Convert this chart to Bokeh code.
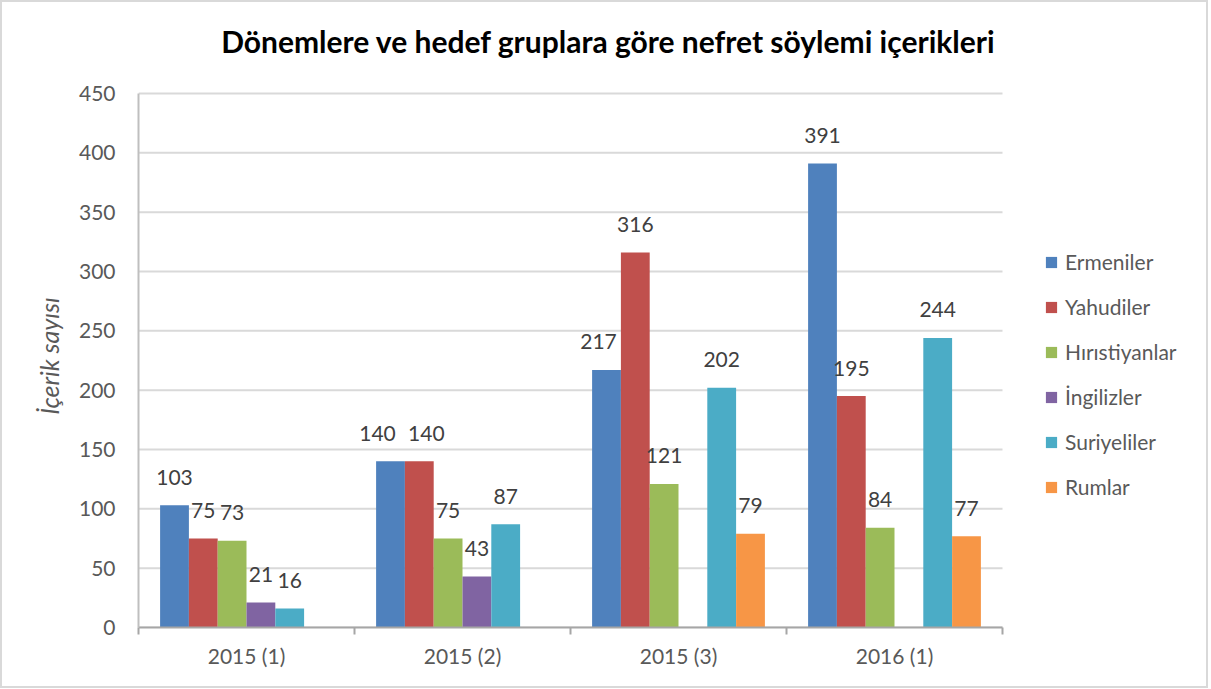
from bokeh.plotting import figure
from bokeh.models import ColumnDataSource, FixedTicker, Legend, LegendItem, Label
from bokeh.core.properties import value
from bokeh.embed import file_html
from bokeh.resources import INLINE

categories = ["2015 (1)", "2015 (2)", "2015 (3)", "2016 (1)"]
series_names = ["Ermeniler", "Yahudiler", "Hırıstiyanlar", "İngilizler", "Suriyeliler", "Rumlar"]
ermeniler = [103, 140, 217, 391]
yahudiler = [75, 140, 316, 195]
hiristiyanlar = [73, 75, 121, 84]
ingilizler = [21, 43, None, None]
suriyeliler = [16, 87, 202, 244]
rumlar = [None, None, 79, 77]
series_values = [ermeniler, yahudiler, hiristiyanlar, ingilizler, suriyeliler, rumlar]
colors = ["#4F81BD", "#C0504D", "#9BBB59", "#8064A2", "#4BACC6", "#F79646"]
y_ticks = [0, 50, 100, 150, 200, 250, 300, 350, 400, 450]
y_max = 450

# small horizontal nudges (px) of a few data labels, as in the reference
label_nudge = {(0, 1): -13, (1, 1): 7, (0, 2): -8}

FONT = "Lato"
W, H = 1208, 688
BORDER = 2
LEFT, BOTTOM_Y, RIGHT_B = 138, 627, 5   # page positions of the frame
FRAME_TOP = 8
PLOT_W, PLOT_TOP = 864, 93               # bar area (4 categories, 0..450)
ncat = len(categories)
frame_w = W - LEFT - RIGHT_B
x_end = ncat * frame_w / PLOT_W          # frame extends right to hold the legend
y_end = y_max * (BOTTOM_Y - FRAME_TOP) / (BOTTOM_Y - PLOT_TOP)  # and up to hold the title

p = figure(width=W, height=H, x_range=(0, x_end), y_range=(0, y_end),
           output_backend="svg", toolbar_location=None,
           min_border_left=LEFT - BORDER, min_border_right=RIGHT_B + BORDER,
           min_border_top=FRAME_TOP - BORDER, min_border_bottom=H - BOTTOM_Y + BORDER)
p.outline_line_color = None
p.background_fill_color = "white"
p.border_fill_color = "white"
p.styles = {"border": "2px solid #d9d9d9", "box-sizing": "border-box"}

# horizontal grid lines limited to the bar area
p.xgrid.grid_line_color = None
p.ygrid.grid_line_color = None
p.segment(x0=[0] * len(y_ticks), x1=[ncat] * len(y_ticks), y0=y_ticks, y1=y_ticks,
          line_color="#d9d9d9", line_width=2)

n = len(series_names)
group = 0.8
bw = group / n
legend_items = []
for k, (name, vals, col) in enumerate(zip(series_names, series_values, colors)):
    xs, tops, labels, dx = [], [], [], []
    for i, v in enumerate(vals):
        if v is None:
            continue
        xs.append(i + 0.5 - group / 2 + (k + 0.5) * bw)
        tops.append(v)
        labels.append(str(v))
        dx.append(label_nudge.get((k, i), 0))
    src = ColumnDataSource(dict(x=xs, top=tops, label=labels, dx=dx))
    r = p.vbar(x="x", top="top", width=bw, bottom=0, source=src,
               fill_color=col, line_color=None)
    p.text(x="x", y="top", text="label", source=src, text_align="center",
           text_baseline="alphabetic", x_offset="dx", y_offset=-28,
           text_font=value(FONT), text_font_size="21px", text_color="#404040")
    legend_items.append(LegendItem(label=name, renderers=[r]))

# axes
p.xaxis.bounds = (0, ncat)
p.xaxis.ticker = FixedTicker(ticks=[i + 0.5 for i in range(ncat)],
                             minor_ticks=list(range(ncat + 1)))
p.xaxis.major_label_overrides = {i + 0.5: c for i, c in enumerate(categories)}
p.xaxis.major_tick_out = 0
p.xaxis.major_tick_in = 0
p.xaxis.minor_tick_out = 7
p.xaxis.minor_tick_in = 0
p.xaxis.minor_tick_line_color = "#a6a6a6"
p.xaxis.minor_tick_line_width = 2
p.xaxis.axis_line_color = "#a6a6a6"
p.xaxis.axis_line_width = 2
p.xaxis.major_label_standoff = 8
p.xaxis.major_label_text_font = FONT
p.xaxis.major_label_text_font_size = "21px"
p.xaxis.major_label_text_color = "#595959"

p.yaxis.bounds = (0, y_max)
p.yaxis.ticker = FixedTicker(ticks=y_ticks)
p.yaxis.major_tick_out = 0
p.yaxis.major_tick_in = 0
p.yaxis.minor_tick_line_color = None
p.yaxis.axis_line_color = "#bfbfbf"
p.yaxis.axis_line_width = 2
p.yaxis.major_label_standoff = 23
p.yaxis.major_label_text_font = FONT
p.yaxis.major_label_text_font_size = "21px"
p.yaxis.major_label_text_color = "#595959"
# trailing no-break spaces keep the label centred on the 0..450 part of the axis
p.yaxis.axis_label = "İçerik sayısı" + "\u00a0" * 13
p.yaxis.axis_label_text_font = FONT
p.yaxis.axis_label_text_font_style = "italic"
p.yaxis.axis_label_text_font_size = "25px"
p.yaxis.axis_label_text_color = "#595959"
p.yaxis.axis_label_standoff = 12

legend = Legend(items=legend_items, location=(1044 - LEFT, 128), orientation="vertical",
                padding=0, spacing=20, label_height=25, glyph_width=14, glyph_height=14,
                label_standoff=7, border_line_color=None, background_fill_alpha=0,
                label_text_font=FONT, label_text_font_size="21px",
                label_text_color="#595959")
p.add_layout(legend, "center")

title = Label(x=608 - LEFT, y=BOTTOM_Y - 40, x_units="screen", y_units="screen",
              text="Dönemlere ve hedef gruplara göre nefret söylemi içerikleri",
              text_align="center", text_baseline="alphabetic", text_font=FONT,
              text_font_style="bold", text_font_size="30px", text_color="#000000")
p.add_layout(title)

open("out.html", "w").write(file_html(p, INLINE))
